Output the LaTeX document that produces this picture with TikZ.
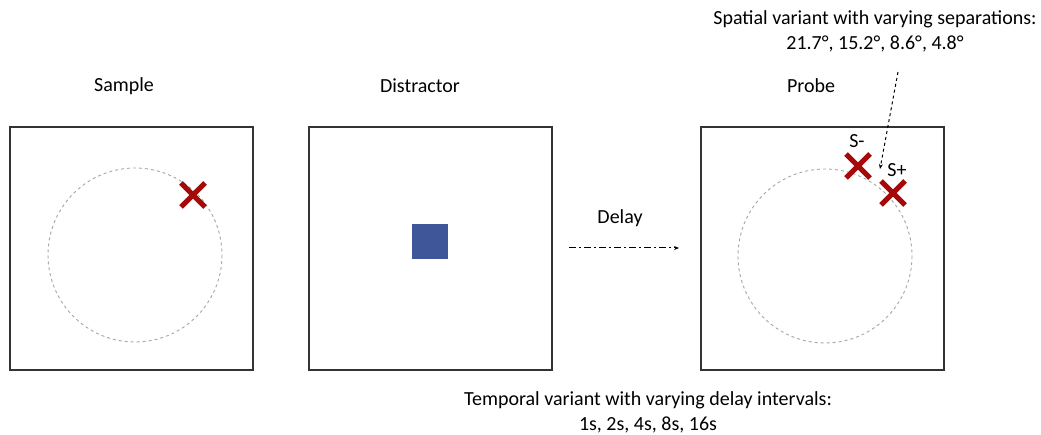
\documentclass[tikz,border=0pt]{standalone}
\usepackage{fontspec}
\setmainfont{Carlito}
\usetikzlibrary{arrows.meta}
\definecolor{crossred}{RGB}{165,10,10}
\definecolor{distblue}{RGB}{63,87,152}
\tikzset{
    panel/.style={draw=black!80, line width=1.3pt},
    ring/.style={draw=black!35, dashed, line width=0.9pt},
    xmark/.style={draw=crossred, line width=5pt},
    lbl/.style={font=\fontsize{20}{25}\selectfont, align=center, inner sep=1pt}
}
\newcommand{\xcross}[2]{%
    \draw[xmark] (#1-12,#2-12) -- (#1+12,#2+12);
    \draw[xmark] (#1-12,#2+12) -- (#1+12,#2-12);
}
\begin{document}
\begin{tikzpicture}[x=1pt, y=-1pt]
    \useasboundingbox (0,0) rectangle (1041,435);
    
    % Panels
    \draw[panel] (10,127) rectangle (253,370);
    \draw[panel] (309,127) rectangle (552,370);
    \draw[panel] (701,127) rectangle (944,370);
    
    % Panel titles
    \node[lbl] (sample) at (124,86) {Sample};
    \node[lbl] (distractor) at (420,86) {Distractor};
    \node[lbl] (probe) at (811,86) {Probe};
    
    % Sample: circle and target
    \draw[ring] (135,255) circle (87);
    \xcross{193}{195}
    
    % Distractor square
    \fill[distblue] (412,224) rectangle (448,259);
    
    % Delay arrow
    \node[lbl] (delay) at (620,218) {Delay};
    \coordinate (dstart) at (569,248);
    \coordinate (dend) at (679,248);
    \draw[dash pattern=on 7pt off 3pt on 2pt off 3pt, line width=1pt, -{Stealth[length=5pt,width=4pt]}] (dstart) -- (dend);
    
    % Probe: circle, S- and S+
    \draw[ring] (825,256) circle (87);
    \xcross{858}{166}
    \xcross{893}{193}
    \node[lbl] (sminus) at (857,141) {S-};
    \node[lbl] (splus) at (897,170) {S+};
    
    % Spatial variant note and arrow
    \node[lbl] (spatial) at (875,31) {Spatial variant with varying separations:\\21.7°, 15.2°, 8.6°, 4.8°};
    \coordinate (sstart) at (898,72);
    \coordinate (send) at (880,169);
    \draw[dashed, line width=1pt, -{Stealth[length=5pt,width=4pt]}] (sstart) -- (send);
    
    % Temporal variant note
    \node[lbl] (temporal) at (648,412) {Temporal variant with varying delay intervals:\\1s, 2s, 4s, 8s, 16s};
    
\end{tikzpicture}
\end{document}
